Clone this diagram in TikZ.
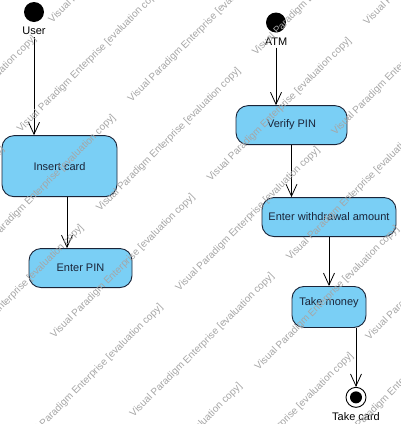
\documentclass[tikz,border=0pt]{standalone}
\usepackage{fontspec}
\setmainfont{Liberation Sans}
\usetikzlibrary{arrows.meta,positioning}
\definecolor{actfill}{HTML}{7ACFF5}
\definecolor{actline}{HTML}{1A2438}

\begin{document}
\begin{tikzpicture}[x=1pt,y=-1pt,>={Straight Barb[length=12pt,width=11pt]},
  act/.style={draw=actline,rounded corners=12pt,fill=actfill,line width=0.9pt,
    text=actline,font=\fontsize{11}{13}\selectfont,inner sep=2pt},
  initst/.style={circle,fill=black,minimum size=20pt,inner sep=0pt},
  finalst/.style={circle,draw,fill=white,line width=0.9pt,minimum size=20pt,inner sep=0pt,
    path picture={\fill[black] (path picture bounding box.center) circle (6pt);}},
  stlabel/.style={font=\fontsize{11}{13}\selectfont,inner sep=2pt,label distance=3pt},
  flow/.style={->,line width=0.8pt},
  wmark/.style={font=\fontsize{10}{12}\selectfont,text=black!35,rotate=45,anchor=west,inner sep=0pt}]
\path[fill=white,use as bounding box] (0,0) rectangle (400,424);

% user lane
\node[initst,label={[stlabel,name=ulab]below:User}] (ustart) at (34,12) {};
\node[act,minimum width=115pt,minimum height=61pt,below=113pt of ustart,xshift=25.5pt] (ins) {Insert card};
\node[act,minimum width=103pt,minimum height=39pt,below=51pt of ins,xshift=21pt] (pin) {Enter PIN};
\coordinate (insout) at ([xshift=7.5pt]ins.south);

% atm lane
\node[initst,label={[stlabel,name=alab]below:ATM}] (astart) at (276,22.5) {};
\node[act,minimum width=111pt,minimum height=39pt,below=72.5pt of astart,xshift=15.5pt] (ver) {Verify PIN};
\node[act,minimum width=134pt,minimum height=39pt,below=52pt of ver,xshift=37.5pt] (wdr) {Enter withdrawal amount};
\node[act,minimum width=74pt,minimum height=41pt,text height=8pt,text depth=11pt,below=49pt of wdr] (mon) {Take money};
\node[finalst,label={[stlabel,name=flab]below:Take card},below=59pt of mon,xshift=27pt] (fin) {};

\draw[flow] (ulab) -- (ulab |- ins.north);
\draw[flow] (insout) -- (insout |- pin.north);
\draw[flow] (alab) -- (alab |- ver.north);
\draw[flow] (ver) -- (ver |- wdr.north);
\draw[flow] (wdr) -- (mon);
\draw[flow] (fin |- mon.south) -- (fin);

% watermark
\begin{scope}
\clip (0,0) rectangle (400,424);
\foreach \t/\s [count=\r] in {-426/150,-284/72,-112/150,29/72,200/150,342/72}{
  \foreach \k in {0,...,5}{
    \pgfmathsetmacro\ws{\s+158.5*\k}
    \node[wmark] (wm\r\k) at ({(\ws+\t)/2},{(\ws-\t)/2}) {Visual Paradigm Enterprise [evaluation copy]};
  }
}
\end{scope}
\end{tikzpicture}
\end{document}
